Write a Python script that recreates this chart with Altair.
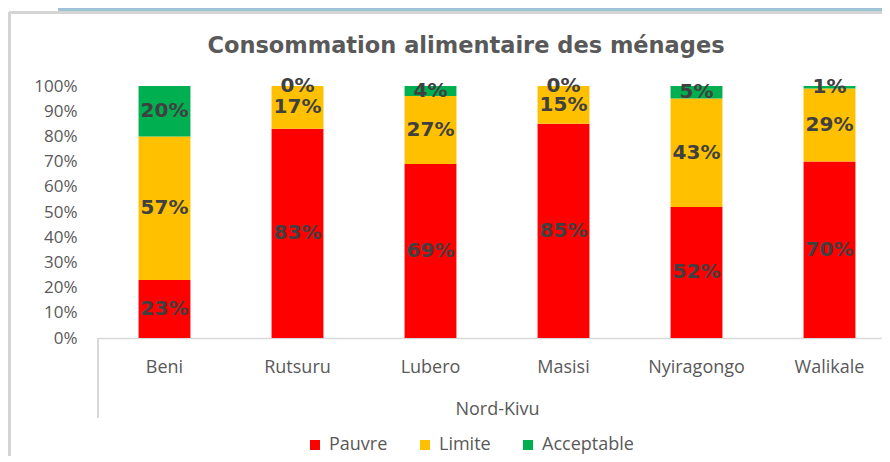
import altair as alt
import pandas as pd

districts = ["Beni", "Rutsuru", "Lubero", "Masisi", "Nyiragongo", "Walikale"]
categories = ["Pauvre", "Limite", "Acceptable"]
pauvre = [23, 83, 69, 85, 52, 70]
limite = [57, 17, 27, 15, 43, 29]
acceptable = [20, 0, 4, 0, 5, 1]
colors = ["#FF0000", "#FFC000", "#00B050"]
y_ticks = [0, 0.1, 0.2, 0.3, 0.4, 0.5, 0.6, 0.7, 0.8, 0.9, 1.0]

rows = []
series = {"Pauvre": pauvre, "Limite": limite, "Acceptable": acceptable}
for i, d in enumerate(districts):
    cum = 0.0
    for k, c in enumerate(categories):
        v = series[c][i] / 100.0
        rows.append({"district": d, "cat": c, "order": k, "v": v,
                     "mid": cum + v / 2.0, "label": f"{series[c][i]}%"})
        cum += v
df = pd.DataFrame(rows)

W, H = 784, 252
GRAY = "#D9D9D9"

x_axis = alt.Axis(title="Nord-Kivu", labelAngle=0, ticks=False,
                  domainColor=GRAY, domainWidth=1.5,
                  labelFont="Open Sans", labelFontSize=18, labelColor="#595959",
                  labelPadding=20, titleFont="Open Sans", titleFontSize=18,
                  titleFontWeight="normal", titleColor="#595959", titlePadding=24)
y_axis = alt.Axis(title=None, values=y_ticks, format=".0%", domain=False,
                  ticks=False, grid=False, labelFont="Open Sans",
                  labelOverlap=False, labelFontSize=17, labelColor="#595959",
                  labelPadding=21)
x_scale = alt.Scale(range=[0, 798], paddingInner=0.61, paddingOuter=0.305)
y_scale = alt.Scale(domain=[0, 1], nice=False)

bars = alt.Chart(df).mark_bar().encode(
    x=alt.X("district:N", sort=districts, scale=x_scale, axis=x_axis),
    y=alt.Y("v:Q", stack="zero", scale=y_scale, axis=y_axis),
    color=alt.Color("cat:N", sort=categories,
                    scale=alt.Scale(domain=categories, range=colors),
                    legend=alt.Legend(title=None, orient="none", direction="horizontal",
                                      legendX=208, legendY=350, symbolType="square",
                                      symbolSize=100, symbolStrokeWidth=0,
                                      labelFont="Open Sans", labelFontSize=18,
                                      labelColor="#595959", labelOffset=5,
                                      columnPadding=28, padding=0)),
    order=alt.Order("order:Q"),
)

labels = alt.Chart(df).mark_text(font="DejaVu Sans", fontWeight="bold", fontSize=20,
                                 color="#404040", baseline="middle").encode(
    x=alt.X("district:N", sort=districts, scale=x_scale, axis=x_axis),
    y=alt.Y("mid:Q", scale=y_scale, axis=y_axis),
    text="label:N",
)

sep = alt.Chart(df).mark_rule(color=GRAY, strokeWidth=1.5).encode(
    x=alt.value(0), y=alt.value(H), y2=alt.value(H + 80))
frame_left = alt.Chart(df).mark_rule(color="#D4D4D4", strokeWidth=2.5).encode(
    x=alt.value(-89), y=alt.value(-73.5), y2=alt.value(H + 200))
frame_top = alt.Chart(df).mark_rule(color="#D4D4D4", strokeWidth=2.5).encode(
    x=alt.value(-89), x2=alt.value(W + 20), y=alt.value(-73.5))
band = alt.Chart(df).mark_rect(color="#9DC3D6").encode(
    x=alt.value(-40), x2=alt.value(W + 20), y=alt.value(-80), y2=alt.value(-75))

chart = alt.layer(band, frame_left, frame_top, sep, bars, labels).properties(
    width=W, height=H,
    autosize=alt.AutoSizeParams(type="none"),
    padding={"left": 90, "top": 78, "right": 0, "bottom": 118},
    title=alt.TitleParams("Consommation alimentaire des ménages", font="DejaVu Sans",
                          fontSize=22.5, fontWeight="bold", color="#595959",
                          anchor="middle", dx=-24, offset=-69, baseline="alphabetic",
                          frame="group"),
).configure_view(stroke=None)

chart.save("out.html", embed_options={"renderer": "svg", "actions": False})
